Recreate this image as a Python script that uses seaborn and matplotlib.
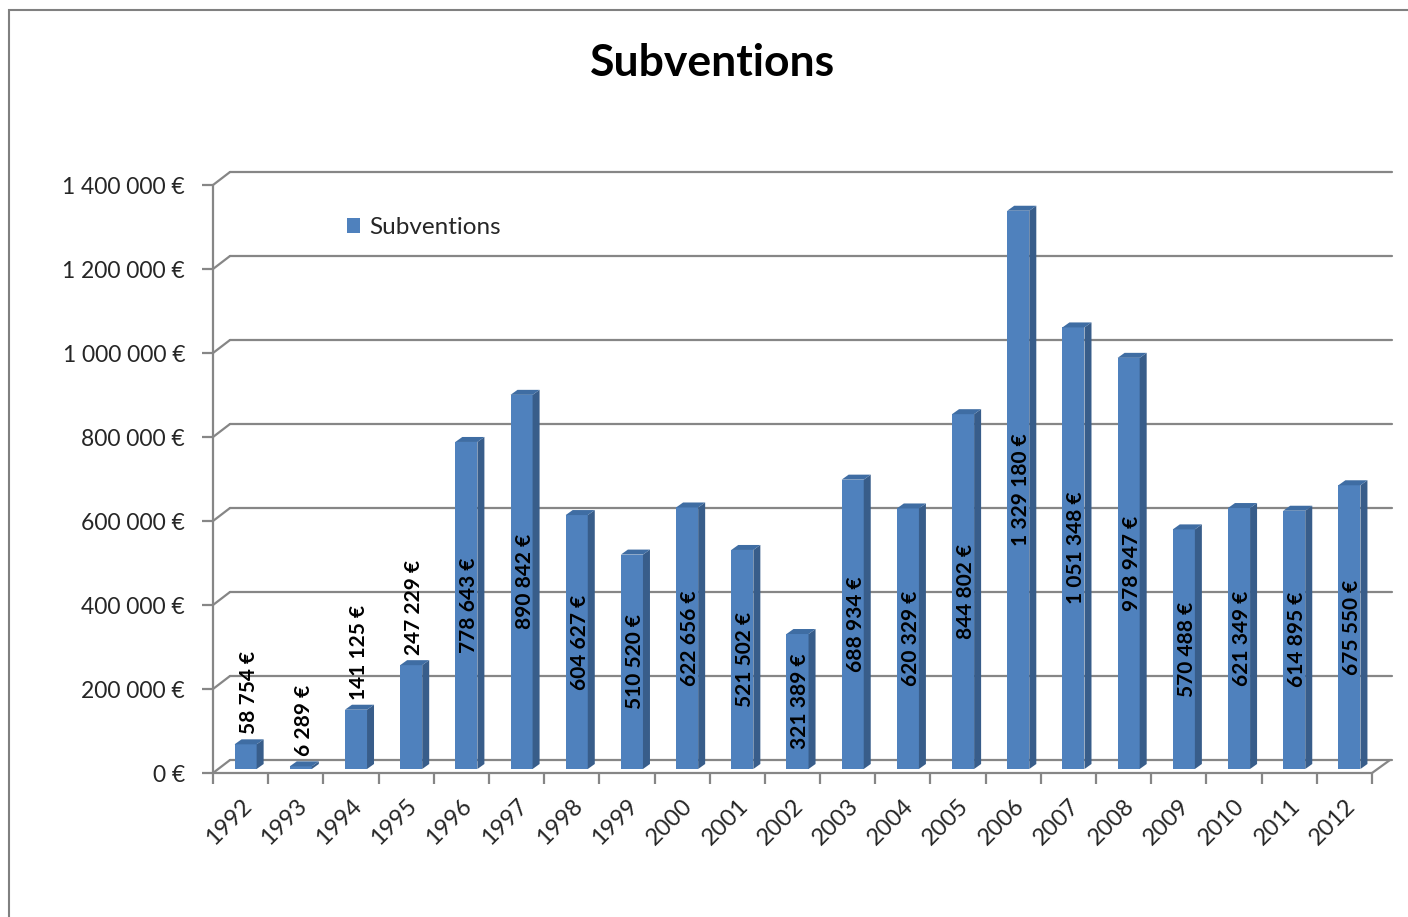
import matplotlib
matplotlib.use("Agg")
import matplotlib.pyplot as plt
import seaborn as sns
import numpy as np
from matplotlib.patches import Polygon, Rectangle
from matplotlib.transforms import offset_copy, IdentityTransform
from matplotlib.lines import Line2D

years = [str(y) for y in range(1992, 2013)]
values = [58754, 6289, 141125, 247229, 778643, 890842, 604627, 510520, 622656,
          521502, 321389, 688934, 620329, 844802, 1329180, 1051348, 978947,
          570488, 621349, 614895, 675550]
yticks = [0, 200000, 400000, 600000, 800000, 1000000, 1200000, 1400000]
series_name = "Subventions"
title = "Subventions"


def fmt(v):
    return "{:,}".format(v).replace(",", "\u202f") + "\u00a0€"


sns.set_style("white")
plt.rcParams['font.family'] = ['Lato', 'DejaVu Sans']

DPI = 100
fig = plt.figure(figsize=(14.08, 9.17), dpi=DPI)
W, H = 1408, 917
# front plane of the chart in pixels
x0, x1, yb, yt = 213, 1372, 773, 185
ax = fig.add_axes([x0 / W, (H - yb) / H, (x1 - x0) / W, (yb - yt) / H])

FRONT = "#4F81BD"
SIDE = "#385D8A"
TOP = "#3F6DA3"
GRID = "#868686"

sns.barplot(x=years, y=values, color=FRONT, width=0.4, saturation=1,
            ax=ax, label=series_name, zorder=3, linewidth=0)
ax.set_xlim(-0.5, len(years) - 0.5)
ax.set_ylim(0, 1400000)
for s in ax.spines.values():
    s.set_visible(False)
ax.set_xlabel("")
ax.set_ylabel("")
ax.grid(False)

# depth offsets (pixels)
wall_dx, wall_dy = 17, 13
bar_off_x, bar_off_y = 5, 4
bar_dx, bar_dy = 7, 5

fig.canvas.draw()
T = ax.transData
ident = IdentityTransform()

# back wall gridlines and left diagonals
for v in yticks:
    px, py = T.transform((-0.5, v))
    ax.add_line(Line2D([px, px + wall_dx], [py, py + wall_dy], transform=ident,
                       color=GRID, lw=1.6, clip_on=False, zorder=1))
    ax.add_line(Line2D([px + wall_dx, x1 + 20], [py + wall_dy, py + wall_dy],
                       transform=ident, color=GRID, lw=1.6, clip_on=False, zorder=1))
# left axis line
pxa, pyb = T.transform((-0.5, 0))
_, pyt = T.transform((-0.5, 1400000))
ax.add_line(Line2D([pxa, pxa], [pyb, pyt], transform=ident, color=GRID, lw=1.6,
                   clip_on=False, zorder=2))
# floor front edge and right diagonal
pxr, _ = T.transform((len(years) - 0.5, 0))
ax.add_line(Line2D([pxa, pxr], [pyb, pyb], transform=ident, color=GRID, lw=1.6,
                   clip_on=False, zorder=2))
ax.add_line(Line2D([pxr, pxr + wall_dx + 1], [pyb, pyb + wall_dy], transform=ident,
                   color=GRID, lw=1.6, clip_on=False, zorder=2))

# 3D bars
off_tr = offset_copy(T, fig=fig, x=bar_off_x, y=bar_off_y, units='dots')
bars = list(ax.patches)
for p, v in zip(bars, values):
    p.set_transform(off_tr)
    p.set_clip_on(False)
    bx, bw, bh = p.get_x(), p.get_width(), p.get_height()
    L, B = T.transform((bx, 0))
    R, Tp = T.transform((bx + bw, bh))
    L += bar_off_x; R += bar_off_x; B += bar_off_y; Tp += bar_off_y
    side = Polygon([(R, B), (R + bar_dx, B + bar_dy), (R + bar_dx, Tp + bar_dy), (R, Tp)],
                   closed=True, transform=ident, facecolor=SIDE, edgecolor="none",
                   zorder=3, clip_on=False)
    top = Polygon([(L, Tp), (R, Tp), (R + bar_dx, Tp + bar_dy), (L + bar_dx, Tp + bar_dy)],
                  closed=True, transform=ident, facecolor=TOP, edgecolor="none",
                  zorder=3, clip_on=False)
    ax.add_patch(side)
    ax.add_patch(top)
    cx = bx + bw / 2
    if v > 300000:
        lt = offset_copy(T, fig=fig, x=bar_off_x + 3, y=bar_off_y, units='dots')
        ax.text(cx, bh / 2, fmt(v), transform=lt, rotation=90, ha='center',
                va='center', fontsize=15, fontweight='bold', color='black', zorder=5)
    else:
        lt = offset_copy(T, fig=fig, x=bar_off_x + 3, y=bar_off_y + 10, units='dots')
        ax.text(cx, bh, fmt(v), transform=lt, rotation=90, ha='center',
                va='bottom', fontsize=15, fontweight='bold', color='black', zorder=5)

# ticks
ax.set_yticks(yticks)
ax.set_yticklabels([fmt(v) for v in yticks], fontsize=16.5)
ax.tick_params(axis='y', left=True, length=8, width=1.6, color=GRID, pad=12)
ax.set_xticks(range(len(years)))
ax.set_xticklabels(years, fontsize=17, rotation=45, ha='right',
                   rotation_mode='anchor')
ax.set_xticks(np.arange(-0.5, len(years)), minor=True)
ax.tick_params(axis='x', which='major', length=0, pad=16)
ax.tick_params(axis='x', which='minor', bottom=True, length=8, width=1.6, color=GRID)
for lab in ax.get_xticklabels():
    lab.set_va('top')

# legend
leg = ax.legend(loc='upper left', bbox_to_anchor=(347 / W, 1 - 217 / H),
                bbox_transform=fig.transFigure, frameon=False, fontsize=17.5,
                handlelength=0.55, handleheight=0.55, handletextpad=0.35,
                borderpad=0, borderaxespad=0)

fig.text(712 / W, 1 - 63 / H, title, ha='center', va='center', fontsize=32,
         fontweight='bold', color='black')

# outer chart frame
fig.add_artist(Rectangle((9 / W, -0.05), 1.2, 1 - 10 / H + 0.05,
                         transform=fig.transFigure, fill=False,
                         edgecolor="#808080", lw=1.5))

fig.savefig("out.png", dpi=DPI)
